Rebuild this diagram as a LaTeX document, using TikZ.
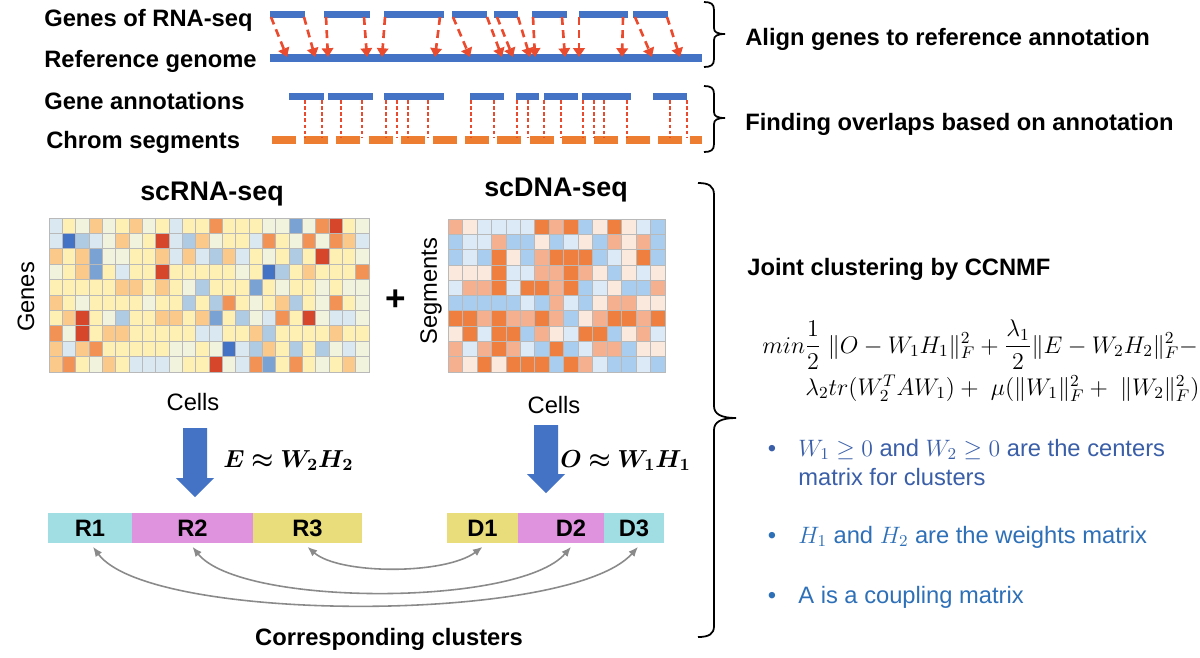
\RequirePackage{fix-cm}
\documentclass[tikz,border=0pt]{standalone}
\usepackage{amsmath,bm}
\usepackage{fontspec}
\setmainfont{Liberation Sans}
\usetikzlibrary{arrows.meta}

\definecolor{genblue}{HTML}{4472C4}
\definecolor{segorange}{HTML}{ED7D31}
\definecolor{alnred}{HTML}{EA4B2E}
\definecolor{arcgray}{HTML}{8A8A8A}
\definecolor{bulA}{HTML}{3A5FA8}
\definecolor{bulB}{HTML}{2E70B8}
\definecolor{clcyan}{HTML}{A0DEE4}
\definecolor{clpink}{HTML}{DF92DD}
\definecolor{clyellow}{HTML}{E9DC7B}
% scRNA-seq palette
\definecolor{rnaA}{HTML}{D6462B}
\definecolor{rnaB}{HTML}{F29255}
\definecolor{rnaC}{HTML}{FBC98A}
\definecolor{rnaD}{HTML}{FEEFB2}
\definecolor{rnaE}{HTML}{F1F3DC}
\definecolor{rnaF}{HTML}{D9E8F1}
\definecolor{rnaG}{HTML}{AECBE3}
\definecolor{rnaH}{HTML}{7AA3D3}
\definecolor{rnaI}{HTML}{4472C4}
% scDNA-seq palette
\definecolor{dnaO}{HTML}{EF7F3F}
\definecolor{dnaP}{HTML}{F4B08F}
\definecolor{dnaQ}{HTML}{FCE9DE}
\definecolor{dnaW}{HTML}{DCEAF7}
\definecolor{dnaB}{HTML}{A8CDEF}

\tikzset{
  boldlbl/.style={font=\fontsize{13.5}{16}\selectfont\bfseries},
  plainlbl/.style={font=\fontsize{13.5}{16}\selectfont},
  titlelbl/.style={font=\fontsize{15.3}{18}\selectfont\bfseries},
  formula/.style={font=\fontsize{13.7}{16}\selectfont, inner sep=0pt},
  alnarrow/.style={alnred, line width=1.5pt, dash pattern=on 4.5pt off 3pt,
    -{Triangle[length=5pt,width=6.5pt]}},
  ovlline/.style={alnred, line width=0.6pt, dash pattern=on 2pt off 1.5pt},
  gridcell/.style={draw=gray!55, line width=0.4pt},
  clus/.style={boldlbl, minimum height=0.6cm, inner sep=0pt},
  pairarc/.style={arcgray, line width=0.9pt,
    {Latex[length=5.5pt,width=4.5pt]}-{Latex[length=5.5pt,width=4.5pt]}},
}

\begin{document}
\begin{tikzpicture}[x=0.02cm, y=-0.02cm]
  \useasboundingbox (0,0) rectangle (1200,657);
  \fill[white] (0,0) rectangle (1200,657);

  % --- alignment to the reference
  \node[boldlbl, anchor=base west, inner sep=0pt] (genesRNA) at (44,26) {Genes of RNA-seq};
  \node[boldlbl, anchor=base west, inner sep=0pt] (refGenome) at (44,67) {Reference genome};
  \foreach \a/\b in {270/305, 324/370, 384/444, 452/487, 494/518, 532/567, 579/628, 633/668}
    \fill[genblue] (\a,11) rectangle (\b,17.5);
  \fill[genblue] (270,54) rectangle (702,62);
  \foreach \s/\e in {271/287, 304/315, 326/328, 364/367, 385/382, 440/435, 453/470, 487/502,
                     497/513, 518/530, 533/535, 562/565, 579/579, 623/622, 635/652, 667/680}
    \draw[alnarrow] (\s,17) -- (\e,57);

  % --- overlaps with chromosome segments
  \node[boldlbl, anchor=base west, inner sep=0pt] (geneAnn) at (44,109) {Gene annotations};
  \node[boldlbl, anchor=base west, inner sep=0pt] (chromSeg) at (46,148) {Chrom segments};
  \foreach \a/\b in {289/324, 328/373, 384/444, 470/504, 516/539, 544/578, 582/631, 653/687}
    \fill[genblue] (\a,93) rectangle (\b,100);
  \foreach \i in {0,...,12}
    \fill[segorange] ({272+32.2*\i},136) rectangle +(24,8);
  \fill[segorange] (690,136) rectangle (702,144);
  \foreach \x in {305,322,341,362,386,397,408,428,471,494,517,528,544,561,583,594,604,627,670,687}
    \draw[ovlline] (\x,100) -- (\x,137);

  % --- braces and step texts
  \draw[line width=1pt] (704,2) .. controls (711,2) and (714,4) .. (714,10) -- (714,28)
    .. controls (714,32) and (717,34) .. (725,34) .. controls (717,34) and (714,36) .. (714,40)
    -- (714,59) .. controls (714,65) and (711,67) .. (704,67);
  \draw[line width=1pt] (704,86) .. controls (711,86) and (714,88) .. (714,94) -- (714,112)
    .. controls (714,116) and (717,118) .. (725,118) .. controls (717,118) and (714,120) .. (714,124)
    -- (714,144) .. controls (714,150) and (711,152) .. (704,152);
  \node[boldlbl, anchor=base west, inner sep=0pt] (alignTxt) at (745,45) {Align genes to reference annotation};
  \node[boldlbl, anchor=base west, inner sep=0pt] (overlapTxt) at (745,130) {Finding overlaps based on annotation};

  % --- scRNA-seq heatmap
  \node[titlelbl, anchor=base, inner sep=0pt] (rnaTitle) at (212,200) {scRNA-seq};
  \foreach \row [count=\r from 0] in {
      {F,D,E,C,E,D,C,E,D,F,D,D,B,D,D,D,E,E,H,E,B,A,D,E},
      {F,I,G,F,E,C,E,D,A,F,G,C,E,D,D,F,B,D,E,B,E,B,C,F},
      {C,D,C,H,E,E,D,D,C,F,C,F,G,C,F,D,E,D,G,D,A,D,D,E},
      {E,D,C,H,D,F,D,D,A,D,D,D,D,D,E,D,I,G,D,C,D,D,D,B},
      {D,D,D,D,D,C,C,D,C,D,E,G,D,D,D,H,D,E,D,D,E,D,E,E},
      {C,D,E,D,D,D,D,E,D,D,G,D,G,B,D,E,D,C,G,D,E,B,D,E},
      {D,C,A,D,E,G,D,D,C,C,D,C,H,D,G,E,F,B,D,A,E,F,F,E},
      {B,E,A,D,C,C,D,D,D,D,D,F,F,D,D,C,G,D,D,D,D,C,D,D},
      {C,F,C,B,D,D,D,D,D,E,E,D,E,I,F,G,C,D,G,D,G,E,F,E},
      {C,B,D,E,C,D,F,F,F,E,D,D,A,E,F,B,H,D,B,D,E,D,C,E}} {
    \foreach \c [count=\k from 0] in \row
      \filldraw[gridcell, fill=rna\c] ({49+13.33*\k},{218+15.4*\r}) rectangle +(13.33,15.4);
  }
  \node[plainlbl, rotate=90, inner sep=0pt] (rnaGenes) at (26,297) {Genes};
  \node[plainlbl, anchor=base, inner sep=0pt] (rnaCells) at (193,410) {Cells};
  \node[font=\fontsize{20}{20}\selectfont\bfseries, inner sep=0pt] (plus) at (396,300) {+};

  % --- scDNA-seq heatmap
  \node[titlelbl, anchor=base, inner sep=0pt] (dnaTitle) at (556,196) {scDNA-seq};
  \foreach \row [count=\r from 0] in {
      {P,Q,W,W,W,W,O,P,O,B,Q,O,Q,W,B},
      {B,W,W,P,B,B,Q,B,W,Q,B,P,Q,P,B},
      {B,W,B,O,Q,B,P,O,O,O,B,W,Q,O,B},
      {Q,Q,Q,O,W,W,P,P,O,P,Q,B,Q,W,Q},
      {W,P,P,O,W,O,O,P,O,B,W,Q,B,B,P},
      {B,B,B,B,B,W,B,P,W,B,Q,P,P,Q,Q},
      {O,O,P,O,P,P,O,P,B,Q,P,O,O,P,O},
      {Q,O,W,O,O,B,P,Q,W,O,O,B,Q,P,W},
      {P,W,P,O,P,W,B,O,B,W,P,P,B,Q,Q},
      {P,Q,O,Q,O,O,O,B,O,P,W,B,B,W,B}} {
    \foreach \c [count=\k from 0] in \row
      \filldraw[gridcell, fill=dna\c] ({448+14.47*\k},{219+15.3*\r}) rectangle +(14.47,15.3);
  }
  \node[plainlbl, rotate=90, inner sep=0pt] (dnaSeg) at (431,291) {Segments};
  \node[plainlbl, anchor=base, inner sep=0pt] (dnaCells) at (554,413) {Cells};

  % --- factorisation arrows
  \foreach \cx/\ty/\tip in {195/428/497, 546/425/493}
    \fill[genblue] (\cx-12,\ty) -- (\cx+12,\ty) -- (\cx+12,\tip-19) -- (\cx+19,\tip-19)
      -- (\cx,\tip) -- (\cx-19,\tip-19) -- (\cx-12,\tip-19) -- cycle;
  \node[font=\fontsize{14}{17}\selectfont, anchor=base west, inner sep=0pt] (factE) at (223,467)
    {$\boldsymbol{E\approx W_2H_2}$};
  \node[font=\fontsize{14}{17}\selectfont, anchor=base west, inner sep=0pt] (factO) at (560,467)
    {$\boldsymbol{O\approx W_1H_1}$};

  % --- clusters
  \node[clus, fill=clcyan, minimum width=1.68cm] (R1) at (90,528) {R1};
  \node[clus, fill=clpink, minimum width=2.42cm] (R2) at (192.5,528) {R2};
  \node[clus, fill=clyellow, minimum width=2.18cm] (R3) at (307.5,528) {R3};
  \node[clus, fill=clyellow, minimum width=1.42cm] (D1) at (482.5,528) {D1};
  \node[clus, fill=clpink, minimum width=1.72cm] (D2) at (561,528) {\hspace*{0.4cm}D2};
  \node[clus, fill=clcyan, minimum width=1.2cm] (D3) at (634,528) {D3};

  \draw[pairarc] ([yshift=-2pt]R3.south) .. controls +(32,28) and +(-37,28) .. ([yshift=-2pt]D1.south);
  \draw[pairarc] ([yshift=-2pt]R2.south) .. controls +(48,60) and +(-52,60) .. ([xshift=0.2cm,yshift=-2pt]D2.south);
  \draw[pairarc] ([xshift=0.06cm,yshift=-2pt]R1.south) .. controls +(57,77) and +(-68,77) .. ([xshift=0.08cm,yshift=-2pt]D3.south);
  \node[boldlbl, anchor=base, inner sep=0pt] (corrTxt) at (389,645) {Corresponding clusters};

  % --- joint clustering
  \draw[line width=1pt] (698,183) .. controls (709,183) and (714,186) .. (714,195) -- (714,406)
    .. controls (714,414) and (721,418) .. (736,418) .. controls (721,418) and (714,422) .. (714,430)
    -- (714,626) .. controls (714,634) and (709,637) .. (698,637);
  \node[boldlbl, anchor=base west, inner sep=0pt] (jointTxt) at (747,275) {Joint clustering by CCNMF};
  \node[formula, anchor=base west] (obj1) at (762,353)
    {$\displaystyle min\frac{1}{2}\;\|O-W_1H_1\|_F^2+\frac{\lambda_1}{2}\|E-W_2H_2\|_F^2-$};
  \node[formula, anchor=base west] (obj2) at (805,395)
    {$\lambda_2tr(W_2^TAW_1)+\;\mu(\|W_1\|_F^2+\;\|W_2\|_F^2)$};

  \node[plainlbl, bulA, anchor=base, inner sep=0pt] (dot1) at (772,456) {\textbullet};
  \node[plainlbl, bulA, anchor=base west, inner sep=0pt] (bul1) at (798,456)
    {$W_1\geq 0$ and $W_2\geq 0$ are the centers};
  \node[plainlbl, bulA, anchor=base west, inner sep=0pt] (bul1b) at (798,485) {matrix for clusters};
  \node[plainlbl, bulB, anchor=base, inner sep=0pt] (dot2) at (772,543) {\textbullet};
  \node[plainlbl, bulB, anchor=base west, inner sep=0pt] (bul2) at (798,543)
    {$H_1$ and $H_2$ are the weights matrix};
  \node[plainlbl, bulB, anchor=base, inner sep=0pt] (dot3) at (772,603) {\textbullet};
  \node[plainlbl, bulB, anchor=base west, inner sep=0pt] (bul3) at (798,603) {A is a coupling matrix};
\end{tikzpicture}
\end{document}
